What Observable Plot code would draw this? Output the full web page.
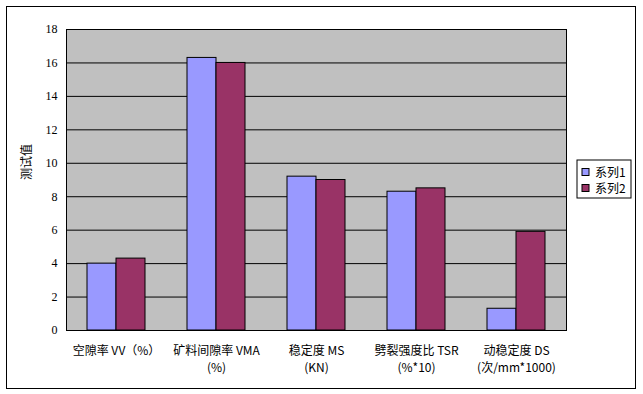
<!DOCTYPE html>
<html><head><meta charset="utf-8">
<script src="https://cdn.jsdelivr.net/npm/d3@7"></script>
<script src="https://cdn.jsdelivr.net/npm/@observablehq/plot@0.6"></script>
<style>
body{margin:0;background:#fff;}
#wrap{position:relative;width:643px;height:394px;}
#border{position:absolute;left:6px;top:6px;width:628px;height:381px;border:1px solid #000;pointer-events:none;}
</style>
</head><body>
<div id="wrap"><div id="border"></div></div>
<script>
const categories = ["空隙率 VV（%）", "矿料间隙率 VMA\n(%)", "稳定度 MS\n(KN)", "劈裂强度比 TSR\n(%*10)", "动稳定度 DS\n(次/mm*1000)"];
const series1 = [4.0, 16.3, 9.2, 8.3, 1.3];
const series2 = [4.3, 16.0, 9.0, 8.5, 5.9];
const seriesNames = ["系列1", "系列2"];
const colors = ["#9999FF", "#993366"];
const yTicks = [0, 2, 4, 6, 8, 10, 12, 14, 16, 18];

const d1 = categories.map((c, i) => ({cat: c, v: series1[i]}));
const d2 = categories.map((c, i) => ({cat: c, v: series2[i]}));

const chart = Plot.plot({
  width: 643, height: 394,
  marginLeft: 66, marginRight: 77, marginTop: 29, marginBottom: 64,
  style: {fontFamily: "'Liberation Serif', 'Noto Sans CJK SC', serif", fontSize: "12px", color: "#000", background: "transparent"},
  x: {domain: categories, padding: 0, label: null},
  y: {domain: [0, 18], label: null},
  marks: [
    Plot.frame({fill: "#C0C0C0"}),
    Plot.ruleY(yTicks, {stroke: "#000", strokeWidth: 1}),
    Plot.barY(d1, {x: "cat", y: "v", fill: colors[0], stroke: "#000", strokeWidth: 1, insetLeft: 21, insetRight: 50}),
    Plot.barY(d2, {x: "cat", y: "v", fill: colors[1], stroke: "#000", strokeWidth: 1, insetLeft: 50, insetRight: 21}),
    Plot.frame({stroke: "#000", strokeWidth: 1}),
    Plot.axisY({ticks: yTicks, tickSize: 0, tickPadding: 9, fontSize: 12, label: null}),
    Plot.axisX({tickSize: 0, tickPadding: 12, fontSize: 12, lineHeight: 1.45, label: null, fontFamily: "'Noto Sans CJK SC', sans-serif"}),
    Plot.text(["测试值"], {frameAnchor: "left", dx: -39, rotate: -90, fontSize: 12, fontFamily: "'Noto Sans CJK SC', sans-serif"})
  ]
});
document.getElementById("wrap").prepend(chart);

// legend box
const svg = d3.select(chart);
const lg = svg.append("g").attr("transform", "translate(577,160)");
lg.append("rect").attr("width", 54).attr("height", 38).attr("fill", "#fff").attr("stroke", "#000");
seriesNames.forEach((n, i) => {
  const y = 12 + i * 16;
  lg.append("rect").attr("x", 5).attr("y", y - 3.5).attr("width", 7).attr("height", 7).attr("fill", colors[i]).attr("stroke", "#000");
  lg.append("text").attr("x", 18).attr("y", y).attr("dy", "0.38em").attr("font-size", 12)
    .attr("text-anchor", "start")
    .attr("font-family", "'Noto Sans CJK SC', sans-serif").text(n);
});
</script>
</body></html>
